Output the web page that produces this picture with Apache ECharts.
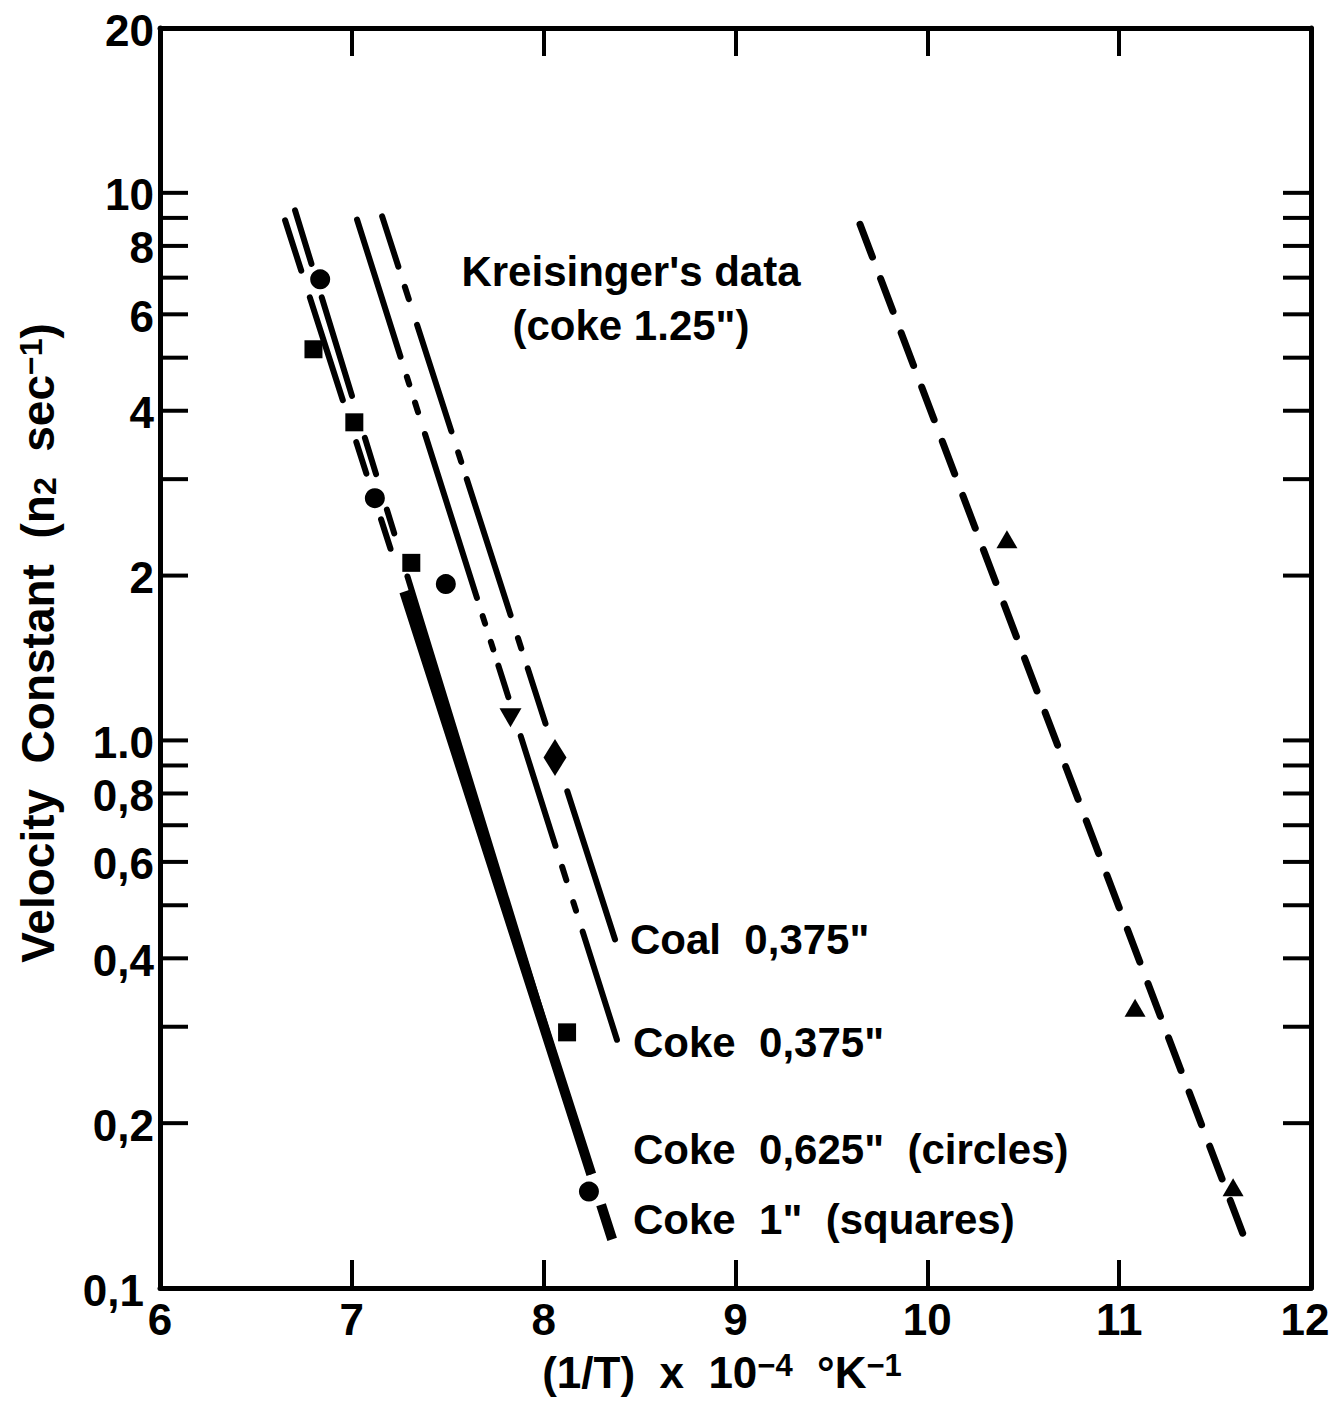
<!DOCTYPE html>
<html>
<head>
<meta charset="utf-8">
<title>Velocity constant vs reciprocal temperature</title>
<script src="https://cdn.jsdelivr.net/npm/echarts@6/dist/echarts.min.js"></script>
<style>
  html, body { margin: 0; padding: 0; background: #ffffff; }
  #chart { width: 1333px; height: 1402px; }
</style>
</head>
<body>
<div id="chart"></div>
<script>
// ---- axis values ----
const xTickValues = [6, 7, 8, 9, 10, 11, 12];
const yTickValues = [0.2, 0.3, 0.4, 0.5, 0.6, 0.7, 0.8, 0.9, 1, 2, 3, 4, 5, 6, 7, 8, 9, 10];
const yLabelValues = [0.1, 0.2, 0.4, 0.6, 0.8, 1, 2, 4, 6, 8, 10, 20];
const yLabelText = ['0,1', '0,2', '0,4', '0,6', '0,8', '1.0', '2', '4', '6', '8', '10', '20'];

// ---- measured points: [1/T x 1e4, velocity constant] ----
const coke0625Circles = [[6.835, 6.95], [7.120, 2.77], [7.490, 1.93], [8.236, 0.150]];
const coke1Squares = [[6.800, 5.18], [7.013, 3.81], [7.310, 2.11], [8.122, 0.293]];
const coke0375Points = [[7.827, 1.10]];
const coal0375Points = [[8.059, 0.931]];
const kreisingerPoints = [[10.415, 2.33], [11.083, 0.325], [11.594, 0.1527]];

// ---- fitted straight lines (end points) ----
const coke0625Line = [[6.704, 9.29], [8.242, 0.1632]];
const coke1Line = [[6.652, 8.91], [8.357, 0.1227]];
const coke0375Line = [[7.027, 8.94], [8.382, 0.284]];
const coal0375Line = [[7.158, 9.06], [8.372, 0.433]];
const kreisingerLine = [[9.649, 8.76], [11.656, 0.1227]];

// ---- styling ----
const INK = '#000000';
const FONT = '"Liberation Sans", Arial, Helvetica, sans-serif';
const TICK_LEN = 28;
const X_MIN = 6, X_MAX = 12, Y_MIN = 0.1, Y_MAX = 20;

// hand-drawn style dash patterns (px), broken where the symbols sit
const dashCoke0625 = [56, 35, 103, 44, 38, 37, 25, 45, 3000];
const dashCoke1Upper = [53, 28, 108, 44, 33, 48, 31, 3000];
const dashCoke1Lower = [0, 390, 612, 32, 300];
const dashCoke0375 = [144, 21, 8, 19, 10, 23, 172, 19, 8, 19, 8, 17, 33, 41, 115, 22, 14, 23, 9, 22, 400];
const dashCoal0375 = [53, 21, 13, 27, 112, 22, 10, 18, 143, 24, 11, 21, 58, 71, 400];
const dashKreisinger = [35, 23];

function lineSeries(name, data, dash, width, cap) {
  return {
    name: name, type: 'line', data: data, symbol: 'none', z: 2,
    lineStyle: { color: INK, width: width, type: dash, cap: cap || 'round' },
    emphasis: { disabled: true }, silent: true, animation: false
  };
}
function pointSeries(name, data, symbol, size, rotate) {
  return {
    name: name, type: 'scatter', data: data, symbol: symbol, symbolSize: size,
    symbolRotate: rotate || 0, z: 4,
    itemStyle: { color: INK, opacity: 1 },
    emphasis: { disabled: true }, silent: true, animation: false
  };
}

const xAxisCommon = {
  type: 'value', min: X_MIN, max: X_MAX, interval: 1,
  axisLine: { show: true, onZero: false, lineStyle: { color: INK, width: 5 } },
  axisTick: { show: true, inside: true, length: TICK_LEN, lineStyle: { color: INK, width: 4 } },
  axisLabel: { show: false },
  splitLine: { show: false }
};
const yAxisCommon = {
  type: 'log', logBase: 10, min: Y_MIN, max: Y_MAX,
  axisLine: { show: true, onZero: false, lineStyle: { color: INK, width: 5 } },
  axisTick: { show: false }, minorTick: { show: false },
  axisLabel: { show: false }, splitLine: { show: false }
};

const option = {
  backgroundColor: '#ffffff',
  animation: false,
  grid: { left: 160, top: 28, width: 1151, height: 1260, containLabel: false, outerBoundsMode: 'none' },
  xAxis: [
    Object.assign({}, xAxisCommon, { position: 'bottom' }),
    Object.assign({}, xAxisCommon, { position: 'top' })
  ],
  yAxis: [
    Object.assign({}, yAxisCommon, { position: 'left' }),
    Object.assign({}, yAxisCommon, { position: 'right' })
  ],
  series: [
    // log-axis ticks on both sides
    {
      name: 'yTicks', type: 'custom', clip: false, silent: true, z: 5,
      data: yTickValues.map(function (v) { return [X_MIN, v]; }),
      renderItem: function (params, api) {
        const v = api.value(1);
        const l = api.coord([X_MIN, v]);
        const r = api.coord([X_MAX, v]);
        return {
          type: 'group', children: [
            { type: 'line', shape: { x1: l[0], y1: l[1], x2: l[0] + TICK_LEN, y2: l[1] },
              style: { stroke: INK, lineWidth: 4 } },
            { type: 'line', shape: { x1: r[0] - TICK_LEN, y1: r[1], x2: r[0], y2: r[1] },
              style: { stroke: INK, lineWidth: 4 } }
          ]
        };
      }
    },
    // log-axis labels (the lowest one steps left of the "6")
    {
      name: 'yLabels', type: 'custom', clip: false, silent: true, z: 5,
      data: yLabelValues.map(function (v) { return [X_MIN, v]; }),
      renderItem: function (params, api) {
        const v = api.value(1);
        const p = api.coord([X_MIN, v]);
        const gap = v === Y_MIN ? 16 : 6;
        return {
          type: 'text', x: p[0] - gap, y: p[1] + 2,
          style: {
            text: yLabelText[params.dataIndex], fill: INK,
            font: 'bold 44px ' + FONT, textAlign: 'right', textVerticalAlign: 'middle'
          }
        };
      }
    },
    // x-axis labels (the last one is pulled in from the page edge)
    {
      name: 'xLabels', type: 'custom', clip: false, silent: true, z: 5,
      data: xTickValues.map(function (v) { return [v, Y_MIN]; }),
      renderItem: function (params, api) {
        const v = api.value(0);
        const p = api.coord([v, Y_MIN]);
        const shift = v === X_MAX ? -6 : 0;
        return {
          type: 'text', x: p[0] + shift, y: p[1] + 9,
          style: {
            text: String(v), fill: INK,
            font: 'bold 44px ' + FONT, textAlign: 'center', textVerticalAlign: 'top'
          }
        };
      }
    },
    lineSeries('Coke 0.625 in', coke0625Line, dashCoke0625, 6),
    lineSeries('Coke 1 in', coke1Line, dashCoke1Upper, 6),
    lineSeries('Coke 1 in (lower)', coke1Line, dashCoke1Lower, 10, 'butt'),
    lineSeries('Coke 0.375 in', coke0375Line, dashCoke0375, 6),
    lineSeries('Coal 0.375 in', coal0375Line, dashCoal0375, 6),
    lineSeries("Kreisinger's data", kreisingerLine, dashKreisinger, 7),
    pointSeries('Coke 0.625 in (circles)', coke0625Circles, 'circle', 20),
    pointSeries('Coke 1 in (squares)', coke1Squares, 'rect', 18),
    pointSeries('Coke 0.375 in points', coke0375Points, 'triangle', [22, 19], 180),
    pointSeries('Coal 0.375 in points', coal0375Points, 'diamond', [23, 37]),
    pointSeries('Kreisinger points', kreisingerPoints, 'triangle', [21, 18])
  ],
  graphic: [
    { type: 'text', x: 631, y: 271, silent: true,
      style: { text: "Kreisinger's data", fill: INK, font: 'bold 42px ' + FONT,
               textAlign: 'center', textVerticalAlign: 'middle' } },
    { type: 'text', x: 631, y: 325, silent: true,
      style: { text: '(coke 1.25")', fill: INK, font: 'bold 42px ' + FONT,
               textAlign: 'center', textVerticalAlign: 'middle' } },
    { type: 'text', x: 630, y: 939, silent: true,
      style: { text: 'Coal  0,375"', fill: INK, font: 'bold 42px ' + FONT,
               textAlign: 'left', textVerticalAlign: 'middle' } },
    { type: 'text', x: 633, y: 1042, silent: true,
      style: { text: 'Coke  0,375"', fill: INK, font: 'bold 42px ' + FONT,
               textAlign: 'left', textVerticalAlign: 'middle' } },
    { type: 'text', x: 633, y: 1149, silent: true,
      style: { text: 'Coke  0,625"  (circles)', fill: INK, font: 'bold 42px ' + FONT,
               textAlign: 'left', textVerticalAlign: 'middle' } },
    { type: 'text', x: 633, y: 1219, silent: true,
      style: { text: 'Coke  1"  (squares)', fill: INK, font: 'bold 42px ' + FONT,
               textAlign: 'left', textVerticalAlign: 'middle' } },
    // x axis title
    { type: 'text', x: 722, y: 1372, silent: true,
      style: {
        text: '(1/T)  x  10{sup|\u22124}  \u00b0K{sup|\u22121}',
        fill: INK, font: 'bold 44px ' + FONT, textAlign: 'center', textVerticalAlign: 'middle',
        rich: {
          sup: { fontFamily: FONT, fontWeight: 'bold', fontSize: 31, lineHeight: 31, verticalAlign: 'top', fill: INK }
        }
      } },
    // y axis title
    { type: 'text', x: 38, y: 643, rotation: Math.PI / 2, silent: true,
      style: {
        text: 'Velocity  Constant  (n{sub|2}  sec{sup|\u22121})',
        fill: INK, font: 'bold 46px ' + FONT, textAlign: 'center', textVerticalAlign: 'middle',
        rich: {
          sup: { fontFamily: FONT, fontWeight: 'bold', fontSize: 32, lineHeight: 32, verticalAlign: 'top', fill: INK },
          sub: { fontFamily: FONT, fontWeight: 'bold', fontSize: 32, lineHeight: 32, verticalAlign: 'bottom', fill: INK }
        }
      } }
  ]
};

const chart = echarts.init(document.getElementById('chart'), null, { renderer: 'svg' });
chart.setOption(option);
</script>
</body>
</html>
